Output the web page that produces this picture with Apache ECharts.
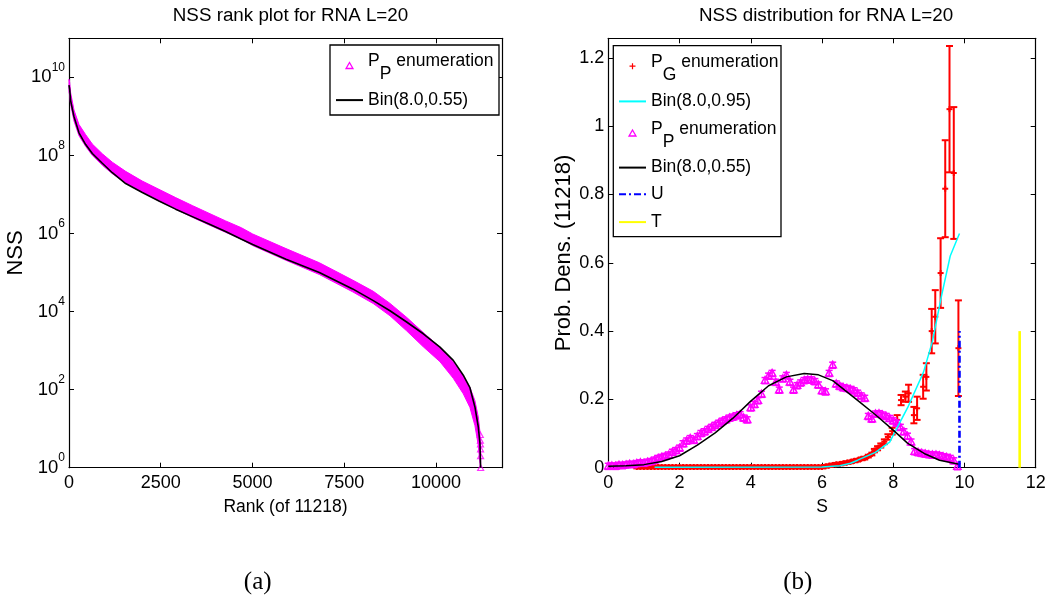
<!DOCTYPE html>
<html><head><meta charset="utf-8">
<script src="https://cdn.jsdelivr.net/npm/echarts@6/dist/echarts.min.js"></script>
<style>html,body{margin:0;padding:0;background:#fff}#c{width:1059px;height:603px}</style>
</head><body><div id="c"></div>
<script>
// ================= Panel (a): NSS rank plot =================
const rankTicksInterval = 2500;
// Bin(8.0,0.55) curve (rank, NSS)
const rankBin = [0,18,45,136,272,454,636,908,1180,1544,1998,2452,2906,3360,3814,4268,4700,5006,5914,6822,7730,8293,8747,9201,9655,10109,10472,10745,10926,11062,11153,11199,11217];
const nssBin  = [6.3e9,4.9e9,2.5e9,9.8e8,3.8e8,1.9e8,1.12e8,6.3e7,3.6e7,1.9e7,1.12e7,6.8e6,4.2e6,2.7e6,1.74e6,1.12e6,7.1e5,5.2e5,2.2e5,1.0e5,3.8e4,1.9e4,1.05e4,5.4e3,2.7e3,1.23e3,560,234,112,36,11.2,4.2,1];
// P_P enumeration band (rank, lower / upper extent of the triangles + error bars)
const ppRank = [0,18,45,136,272,454,636,908,1180,1544,1998,2452,2906,3360,3814,4268,4700,5006,5914,6822,7730,8293,8747,9201,9655,10109,10472,10745,10926,11062,11153,11199,11218];
const ppLow  = [4.1e9,3.6e9,2.0e9,7.6e8,3.2e8,1.7e8,1.0e8,5.6e7,3.4e7,1.95e7,1.13e7,6.8e6,4.2e6,2.6e6,1.66e6,1.07e6,7.1e5,4.9e5,2.05e5,8.9e4,3.2e4,1.6e4,7.8e3,3.2e3,1.25e3,520,195,78,35,12,3.8,1.3,1];
const ppHigh = [8.9e9,7.4e9,4.0e9,1.45e9,6.2e8,3.4e8,1.95e8,1.1e8,6.7e7,3.9e7,2.2e7,1.35e7,8.3e6,5.2e6,3.3e6,2.1e6,1.4e6,9.7e5,4.1e5,1.78e5,6.4e4,3.3e4,1.62e4,7.1e3,2.9e3,1.22e3,510,220,115,52,20,8.3,2.1];
// individual triangles visible at the tail
const ppTailRank = [11218,11217,11215,11213,11211,11208];
const ppTailNss  = [1,2,3,4,5,7];

// ================= Panel (b): NSS distribution =================
const sTicksInterval = 2;
const densTicksInterval = 0.2;
// P_P enumeration (S, density)
const ppS = [0,0.1,0.2,0.3,0.4,0.5,0.6,0.7,0.8,0.9,1.0,1.1,1.2,1.3,1.4,1.5,1.6,1.7,1.8,1.9,2.0,2.1,2.2,2.3,2.4,2.5,2.6,2.7,2.8,2.9,3.0,3.1,3.2,3.3,3.4,3.5,3.6,3.7,3.8,3.9,4.0,4.1,4.2,4.3,4.4,4.5,4.6,4.7,4.8,4.9,5.0,5.1,5.2,5.3,5.4,5.5,5.6,5.7,5.8,5.9,6.0,6.1,6.2,6.3,6.4,6.5,6.6,6.7,6.8,6.9,7.0,7.1,7.2,7.3,7.4,7.5,7.6,7.7,7.8,7.9,8.0,8.1,8.2,8.3,8.4,8.5,8.6,8.7,8.8,8.9,9.0,9.1,9.2,9.3,9.4,9.5,9.6,9.7,9.8];
const ppV = [0.004,0.005,0.004,0.007,0.006,0.008,0.010,0.009,0.012,0.014,0.013,0.016,0.018,0.022,0.027,0.030,0.033,0.037,0.045,0.050,0.057,0.070,0.078,0.085,0.080,0.091,0.100,0.105,0.112,0.118,0.124,0.130,0.136,0.140,0.145,0.148,0.152,0.155,0.145,0.140,0.175,0.185,0.196,0.215,0.255,0.268,0.276,0.250,0.227,0.260,0.270,0.250,0.227,0.240,0.248,0.255,0.257,0.257,0.252,0.242,0.225,0.222,0.276,0.300,0.245,0.238,0.234,0.232,0.229,0.225,0.218,0.210,0.203,0.150,0.142,0.157,0.158,0.154,0.150,0.144,0.137,0.130,0.118,0.105,0.092,0.075,0.047,0.044,0.042,0.040,0.038,0.037,0.037,0.035,0.032,0.030,0.027,0.020,0.003];
const ppErr = 0.009;
// Bin(8.0,0.55)
const binS = [0,0.5,1,1.5,2,2.5,3,3.5,4,4.5,5,5.5,5.9,6.3,6.7,7,7.5,8,8.4,8.9,9.3,9.85];
const binV = [0.004,0.006,0.009,0.018,0.035,0.066,0.102,0.145,0.195,0.240,0.266,0.276,0.272,0.255,0.222,0.197,0.155,0.110,0.072,0.040,0.022,0.010];
// Bin(8.0,0.95)
const cyanS = [1.3,6.0,6.5,6.8,7.0,7.5,7.9,8.1,8.4,8.85,9.1,9.35,9.6,9.86];
const cyanV = [0.001,0.002,0.006,0.013,0.022,0.045,0.075,0.115,0.175,0.280,0.370,0.500,0.620,0.686];
// P_G enumeration (S, density, error)
const pgS = [0.8,0.9,1.0,1.1,1.2,1.3,1.4,1.5,1.6,1.7,1.8,1.9,2.0,2.1,2.2,2.3,2.4,2.5,2.6,2.7,2.8,2.9,3.0,3.1,3.2,3.3,3.4,3.5,3.6,3.7,3.8,3.9,4.0,4.1,4.2,4.3,4.4,4.5,4.6,4.7,4.8,4.9,5.0,5.1,5.2,5.3,5.4,5.5,5.6,5.7,5.8,5.9,6.0,
  6.1,6.2,6.3,6.4,6.5,6.6,6.7,6.8,6.9,7.0,7.1,7.2,7.3,7.4,
  7.47,7.56,7.65,7.75,7.85,7.97,8.11,8.22,8.34,8.43,8.58,8.67,8.84,8.93,9.08,9.18,9.33,9.46,9.58,9.70,9.83];
const pgV = [0.002,0.002,0.002,0.002,0.002,0.002,0.002,0.002,0.002,0.002,0.002,0.002,0.002,0.002,0.002,0.002,0.002,0.002,0.002,0.002,0.002,0.002,0.002,0.002,0.002,0.002,0.002,0.002,0.002,0.002,0.002,0.002,0.002,0.002,0.002,0.002,0.002,0.002,0.002,0.002,0.002,0.002,0.002,0.002,0.002,0.002,0.002,0.002,0.002,0.002,0.002,0.002,0.002,
  0.004,0.006,0.008,0.010,0.011,0.013,0.015,0.017,0.020,0.022,0.026,0.028,0.034,0.040,
  0.050,0.057,0.065,0.076,0.090,0.107,0.140,0.198,0.208,0.218,0.154,0.174,0.237,0.266,0.400,0.442,0.570,0.817,1.050,0.863,0.350];
const pgErr = [0.004,0.004,0.004,0.004,0.004,0.004,0.004,0.004,0.004,0.004,0.004,0.004,0.004,0.004,0.004,0.004,0.004,0.004,0.004,0.004,0.004,0.004,0.004,0.004,0.004,0.004,0.004,0.004,0.004,0.004,0.004,0.004,0.004,0.004,0.004,0.004,0.004,0.004,0.004,0.004,0.004,0.004,0.004,0.004,0.004,0.004,0.004,0.004,0.004,0.004,0.004,0.004,0.004,
  0.004,0.004,0.004,0.004,0.004,0.004,0.004,0.004,0.004,0.004,0.004,0.004,0.004,0.004,
  0.005,0.006,0.006,0.007,0.008,0.010,0.014,0.015,0.015,0.025,0.024,0.034,0.035,0.040,0.065,0.078,0.102,0.142,0.185,0.193,0.140];
const uLine = [[9.86,0],[9.86,0.4]];
const tLine = [[11.55,0],[11.55,0.4]];

// ================= styling =================
const FONT = '"Liberation Sans", Arial, Helvetica, sans-serif';
const MAG = '#ff00ff', RED = '#ff0000', CYAN = '#00ffff', BLUE = '#0000ff', YEL = '#ffff00';
const TRI = 'path://M3,0L6,5.2L0,5.2Z';
const PLUS = 'path://M2,0h1v2h2v1h-2v2h-1v-2h-2v-1h2z';

const zip = (a, b) => a.map((v, i) => [v, b[i]]);

function axisCommon(extra) {
  return Object.assign({
    axisLine: {show: true, onZero: false, lineStyle: {color: '#000', width: 1.2}},
    axisTick: {show: true, inside: true, length: 5, lineStyle: {color: '#000', width: 1}},
    splitLine: {show: false},
    minorTick: {show: false},
  }, extra);
}
const tickLabel = {color: '#000', fontFamily: FONT, fontSize: 18, formatter: v => String(v)};

const legendText = {
  color: '#000', fontFamily: FONT, fontSize: 17.5, lineHeight: 20,
  rich: {
    m: {color: '#000', fontFamily: FONT, fontSize: 17.5, lineHeight: 20, padding: [0, 0, 8, 0]},
    s: {color: '#000', fontFamily: FONT, fontSize: 17.5, lineHeight: 20, padding: [18, 0, 0, 0]},
    n: {color: '#000', fontFamily: FONT, fontSize: 17.5, lineHeight: 20}
  }
};
const legendLabels = {
  ppA: '{m|P}{s|P}{m| enumeration}', binA: '{n|Bin(8.0,0.55)}',
  pg: '{m|P}{s|G}{m| enumeration}', bin95: '{n|Bin(8.0,0.95)}',
  ppB: '{m|P}{s|P}{m| enumeration}', binB: '{n|Bin(8.0,0.55)}',
  U: '{n|U}', T: '{n|T}'
};
function legend(left, top, gap, data) {
  return {orient: 'vertical', left: left, top: top, padding: 0, itemWidth: 27, itemHeight: 6,
    itemGap: gap, selectedMode: false, data: data, formatter: n => legendLabels[n],
    textStyle: legendText, z: 6};
}
const triItem = name => ({name: name, icon: TRI, itemStyle: {color: 'rgba(0,0,0,0)', borderColor: MAG, borderWidth: 1.3}});
const lineItem = name => ({name: name, itemStyle: {opacity: 0, borderWidth: 0}});

const chart = echarts.init(document.getElementById('c'), null, {renderer: 'canvas'});

function renderPG(params, api) {
  const x = api.value(0), v = api.value(1), e = api.value(2);
  const c = api.coord([x, v]), lo = api.coord([x, v - e]), hi = api.coord([x, v + e]);
  const st = {stroke: RED, lineWidth: 2};
  return {type: 'group', children: [
    {type: 'line', shape: {x1: c[0], y1: lo[1], x2: c[0], y2: hi[1]}, style: st},
    {type: 'line', shape: {x1: c[0] - 3.5, y1: lo[1], x2: c[0] + 3.5, y2: lo[1]}, style: st},
    {type: 'line', shape: {x1: c[0] - 3.5, y1: hi[1], x2: c[0] + 3.5, y2: hi[1]}, style: st},
    {type: 'line', shape: {x1: c[0] - 3, y1: c[1], x2: c[0] + 3, y2: c[1]}, style: st},
    {type: 'line', shape: {x1: c[0], y1: c[1] - 3, x2: c[0], y2: c[1] + 3}, style: st}
  ]};
}
function renderPP(params, api) {
  const x = api.value(0), v = api.value(1), e = api.value(2);
  const c = api.coord([x, v]), lo = api.coord([x, v - e]), hi = api.coord([x, v + e]);
  const st = {stroke: MAG, lineWidth: 1.5};
  return {type: 'group', children: [
    {type: 'line', shape: {x1: c[0], y1: lo[1], x2: c[0], y2: hi[1]}, style: st},
    {type: 'line', shape: {x1: c[0] - 3.5, y1: lo[1], x2: c[0] + 3.5, y2: lo[1]}, style: st},
    {type: 'line', shape: {x1: c[0] - 3.5, y1: hi[1], x2: c[0] + 3.5, y2: hi[1]}, style: st},
    {type: 'polygon', shape: {points: [[c[0], c[1] - 4], [c[0] - 3.6, c[1] + 2.6], [c[0] + 3.6, c[1] + 2.6]]},
      style: {fill: 'none', stroke: MAG, lineWidth: 1.5}}
  ]};
}
function renderBand(params, api) {
  if (params.dataIndex !== 0) return null;
  const up = ppRank.map((r, i) => api.coord([r, ppHigh[i]]));
  const dn = ppRank.map((r, i) => api.coord([r, ppLow[i]])).reverse();
  return {type: 'polygon', shape: {points: up.concat(dn)}, style: {fill: MAG, stroke: MAG, lineWidth: 1}};
}

const option = {
  animation: false,
  backgroundColor: '#fff',
  title: [
    {text: 'NSS rank plot for RNA L=20', left: 285.5, top: 1, textAlign: 'center',
      textStyle: {fontFamily: FONT, fontSize: 18.8, fontWeight: 'normal', color: '#000'}},
    {text: 'NSS distribution for RNA L=20', left: 821, top: 1, textAlign: 'center',
      textStyle: {fontFamily: FONT, fontSize: 18.8, fontWeight: 'normal', color: '#000'}}
  ],
  grid: [
    {left: 69, top: 38.3, width: 433, height: 429.4, containLabel: false},
    {left: 608.3, top: 38.3, width: 427.4, height: 429.4, containLabel: false}
  ],
  xAxis: [
    axisCommon({type: 'value', gridIndex: 0, position: 'bottom', min: 0, max: 11800, interval: rankTicksInterval,
      axisLabel: Object.assign({margin: 6, showMaxLabel: false}, tickLabel),
      name: 'Rank (of 11218)', nameLocation: 'middle', nameGap: 30,
      nameTextStyle: {fontFamily: FONT, fontSize: 17.5, color: '#000'}}),
    axisCommon({type: 'value', gridIndex: 0, position: 'top', min: 0, max: 11800, interval: rankTicksInterval,
      axisLabel: {show: false}}),
    axisCommon({type: 'value', gridIndex: 1, position: 'bottom', min: 0, max: 12, interval: sTicksInterval,
      axisLabel: Object.assign({margin: 6}, tickLabel),
      name: 'S', nameLocation: 'middle', nameGap: 30,
      nameTextStyle: {fontFamily: FONT, fontSize: 17.5, color: '#000'}}),
    axisCommon({type: 'value', gridIndex: 1, position: 'top', min: 0, max: 12, interval: sTicksInterval,
      axisLabel: {show: false}})
  ],
  yAxis: [
    axisCommon({type: 'log', logBase: 10, gridIndex: 0, position: 'left', min: 1, max: 1e11, interval: 2,
      axisLabel: {margin: 4, showMaxLabel: false, color: '#000',
        formatter: v => '{b|10}{e|' + Math.round(Math.log10(v)) + '}',
        rich: {b: {fontFamily: FONT, fontSize: 18.5, lineHeight: 22, color: '#000'},
               e: {fontFamily: FONT, fontSize: 12, lineHeight: 22, color: '#000', padding: [0, 0, 20, 0]}}},
      name: 'NSS', nameLocation: 'middle', nameGap: 29, nameRotate: 90,
      nameTextStyle: {fontFamily: FONT, fontSize: 22, color: '#000'}}),
    axisCommon({type: 'log', logBase: 10, gridIndex: 0, position: 'right', min: 1, max: 1e11, interval: 2,
      axisLabel: {show: false}}),
    axisCommon({type: 'value', gridIndex: 1, position: 'left', min: 0, max: 1.2575, interval: densTicksInterval,
      axisLabel: Object.assign({margin: 4, showMaxLabel: false}, tickLabel),
      name: 'Prob. Dens. (11218)', nameLocation: 'middle', nameGap: 23.5, nameRotate: 90,
      nameTextStyle: {fontFamily: FONT, fontSize: 22, color: '#000'}}),
    axisCommon({type: 'value', gridIndex: 1, position: 'right', min: 0, max: 1.2575, interval: densTicksInterval,
      axisLabel: {show: false}})
  ],
  legend: [
    legend(335, 47.5, 6.6, [triItem('ppA'), lineItem('binA')]),
    legend(618, 48.2, 7.2, [{name: 'pg', icon: PLUS, itemStyle: {color: RED, borderWidth: 0}}, lineItem('bin95')]),
    legend(618, 115, 6.6, [triItem('ppB'), lineItem('binB')]),
    legend(618, 184.3, 7.8, [lineItem('U'), lineItem('T')])
  ],
  graphic: [
    {type: 'rect', shape: {x: 330, y: 45, width: 169, height: 70}, style: {fill: '#fff', stroke: '#000', lineWidth: 1.3}, z: 5},
    {type: 'rect', shape: {x: 613.3, y: 45.7, width: 167.7, height: 191}, style: {fill: '#fff', stroke: '#000', lineWidth: 1.3}, z: 5},
    {type: 'text', x: 257.7, y: 582.3, z: 5,
      style: {text: '(a)', fontFamily: '"Liberation Serif", "DejaVu Serif", serif', fontSize: 25, fill: '#000',
        textAlign: 'center', textVerticalAlign: 'middle', align: 'center', verticalAlign: 'middle'}},
    {type: 'text', x: 797.8, y: 582.3, z: 5,
      style: {text: '(b)', fontFamily: '"Liberation Serif", "DejaVu Serif", serif', fontSize: 25, fill: '#000',
        textAlign: 'center', textVerticalAlign: 'middle', align: 'center', verticalAlign: 'middle'}}
  ],
  series: [
    // ---- panel (a)
    {name: 'ppA', type: 'custom', xAxisIndex: 0, yAxisIndex: 0, renderItem: renderBand,
      itemStyle: {color: MAG}, encode: {x: 0, y: [1, 2]},
      data: ppRank.map((r, i) => [r, ppLow[i], ppHigh[i]]), z: 2},
    {name: 'ppAtail', type: 'scatter', xAxisIndex: 0, yAxisIndex: 0, symbol: 'triangle', symbolSize: [6, 5.5],
      itemStyle: {color: 'rgba(0,0,0,0)', borderColor: MAG, borderWidth: 1.2}, data: zip(ppTailRank, ppTailNss), z: 2},
    {name: 'binA', type: 'line', xAxisIndex: 0, yAxisIndex: 0, symbol: 'none', showSymbol: false,
      lineStyle: {color: '#000', width: 1.6}, itemStyle: {color: '#000'}, data: zip(rankBin, nssBin), z: 3},
    // ---- panel (b)
    {name: 'pg', type: 'custom', xAxisIndex: 2, yAxisIndex: 2, renderItem: renderPG,
      itemStyle: {color: RED}, encode: {x: 0, y: 1},
      data: pgS.map((s, i) => [s, pgV[i], pgErr[i]]), z: 2},
    {name: 'bin95', type: 'line', xAxisIndex: 2, yAxisIndex: 2, symbol: 'none', showSymbol: false,
      lineStyle: {color: CYAN, width: 1.5}, itemStyle: {color: CYAN}, data: zip(cyanS, cyanV), z: 3},
    {name: 'ppB', type: 'custom', xAxisIndex: 2, yAxisIndex: 2, renderItem: renderPP,
      itemStyle: {color: MAG}, encode: {x: 0, y: 1},
      data: ppS.map((s, i) => [s, ppV[i], ppErr]), z: 3},
    {name: 'binB', type: 'line', xAxisIndex: 2, yAxisIndex: 2, symbol: 'none', showSymbol: false,
      lineStyle: {color: '#000', width: 1.5}, itemStyle: {color: '#000'}, data: zip(binS, binV), z: 4},
    {name: 'U', type: 'line', xAxisIndex: 2, yAxisIndex: 2, symbol: 'none', showSymbol: false,
      lineStyle: {color: BLUE, width: 2.6, type: [7, 3, 2, 3]}, itemStyle: {color: BLUE}, data: uLine, z: 4},
    {name: 'T', type: 'line', xAxisIndex: 2, yAxisIndex: 2, symbol: 'none', showSymbol: false,
      lineStyle: {color: YEL, width: 2.6}, itemStyle: {color: YEL}, data: tLine, z: 4}
  ]
};
chart.setOption(option);
</script>
</body></html>
